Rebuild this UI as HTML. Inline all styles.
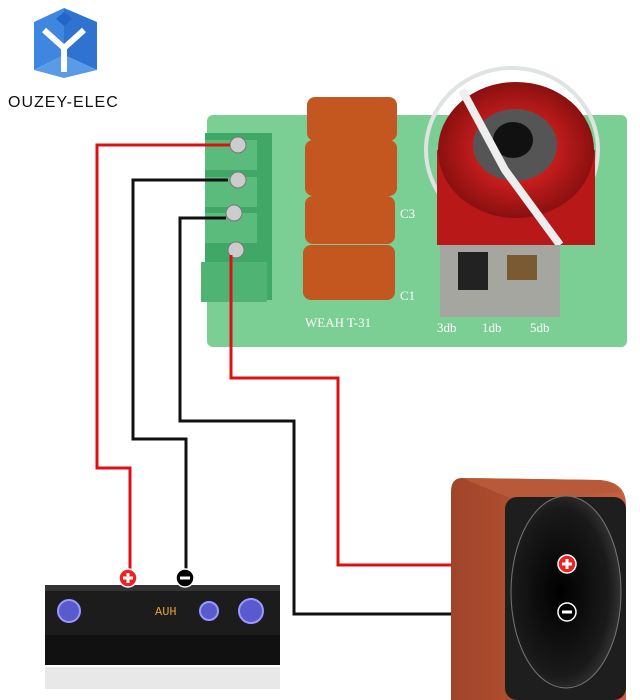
<!DOCTYPE html>
<html><head><style>html,body{margin:0;padding:0;background:#fff}svg{display:block}</style></head><body>
<svg width="640" height="700" viewBox="0 0 640 700" xmlns="http://www.w3.org/2000/svg">
<defs>
<radialGradient id="coil" cx="0.5" cy="0.5" r="0.5"><stop offset="0.3" stop-color="#d22"/><stop offset="1" stop-color="#8a1010"/></radialGradient>
<linearGradient id="wood" x1="0" x2="1"><stop offset="0" stop-color="#a0442a"/><stop offset="1" stop-color="#c8603c"/></linearGradient>
<radialGradient id="horn" cx="0.45" cy="0.5" r="0.55"><stop offset="0" stop-color="#000"/><stop offset="0.8" stop-color="#1a1a1a"/><stop offset="1" stop-color="#333"/></radialGradient>
</defs>
<!-- logo -->
<polygon points="34,22 64,8 64,55 34,70" fill="#3f86e0"/>
<polygon points="64,8 97,22 97,70 64,55" fill="#2f72d0"/>
<polygon points="34,70 64,55 97,70 64,78" fill="#5a9be8"/>
<polygon points="64,12 72,19 64,26 56,19" fill="#2266cc"/>
<path d="M44,30 L64,48 L84,30 M64,48 L64,72" stroke="#fff" stroke-width="6" fill="none"/>
<text x="8" y="107" font-family="Liberation Sans, sans-serif" font-size="16" fill="#111" letter-spacing="1">OUZEY-ELEC</text>
<!-- board -->
<rect x="207" y="115" width="420" height="232" rx="6" fill="#7ccf94"/>
<rect x="205" y="133" width="67" height="167" fill="#3fa866"/>
<rect x="205" y="140" width="52" height="30" fill="#5bbb7d"/>
<rect x="205" y="177" width="52" height="30" fill="#5bbb7d"/>
<rect x="205" y="213" width="52" height="30" fill="#5bbb7d"/>
<rect x="201" y="262" width="66" height="40" fill="#4fb473"/>
<g fill="#ccc" stroke="#777"><circle cx="238" cy="145" r="8"/><circle cx="238" cy="180" r="8"/><circle cx="234" cy="213" r="8"/><circle cx="236" cy="250" r="8"/></g>
<g fill="#c4571f"><rect x="307" y="97" width="90" height="44" rx="8"/><rect x="305" y="140" width="92" height="56" rx="8"/><rect x="305" y="196" width="90" height="48" rx="8"/><rect x="303" y="245" width="92" height="55" rx="8"/></g>
<ellipse cx="512" cy="150" rx="86" ry="82" fill="none" stroke="#dfe4e2" stroke-width="4"/>
<rect x="437" y="150" width="158" height="95" fill="#b81818"/>
<ellipse cx="516" cy="150" rx="78" ry="68" fill="url(#coil)"/>
<ellipse cx="515" cy="145" rx="42" ry="36" fill="#555"/>
<ellipse cx="513" cy="140" rx="20" ry="18" fill="#111"/>
<path d="M462,90 L505,170 L560,245" stroke="#eee" stroke-width="8" fill="none"/>
<rect x="440" y="245" width="120" height="72" fill="#a6a6a0"/>
<rect x="458" y="252" width="30" height="38" fill="#222"/>
<rect x="507" y="255" width="30" height="25" fill="#7a5a30"/>
<g font-family="Liberation Serif, serif" font-size="13" fill="#fff"><text x="305" y="327">WEAH T-31</text><text x="437" y="332">3db</text><text x="482" y="332">1db</text><text x="530" y="332">5db</text><text x="400" y="300">C1</text><text x="400" y="218">C3</text></g>
<!-- wires -->
<g fill="none" stroke-width="3">
<path d="M230,145 H97 V468 H130 V578" stroke="#d11"/>
<path d="M228,180 H133 V439 H186 V578" stroke="#111"/>
<path d="M226,218 H180 V421 H294 V614 H567" stroke="#111"/>
<path d="M231,255 V378 H338 V565 H567" stroke="#d11"/>
</g>
<!-- amp -->
<rect x="45" y="585" width="235" height="80" fill="#1c1c1c"/>
<rect x="45" y="585" width="235" height="6" fill="#333"/>
<rect x="45" y="635" width="235" height="30" fill="#111"/>
<rect x="45" y="667" width="235" height="22" fill="#e8e8e8"/>
<g fill="#5a5acf" stroke="#99f" stroke-width="2"><circle cx="69" cy="611" r="11"/><circle cx="209" cy="611" r="9"/><circle cx="251" cy="611" r="12"/></g>
<text x="155" y="615" font-family="Liberation Mono, monospace" font-size="12" fill="#e8a030">AUH</text>
<!-- speaker -->
<path d="M462,478 L600,480 Q626,482 626,505 L626,700 L451,700 L451,492 Q451,478 462,478 Z" fill="url(#wood)"/>
<path d="M462,478 L600,480 Q615,482 620,492 L515,500 Z" fill="#b85a3a"/>
<rect x="505" y="497" width="121" height="203" rx="12" fill="#1e1e1e"/>
<ellipse cx="566" cy="592" rx="55" ry="96" fill="url(#horn)" stroke="#777"/>
<!-- terminals -->
<g><circle cx="128" cy="578" r="9" fill="#e22" stroke="#fff" stroke-width="1.5"/><path d="M123,578 H133 M128,573 V583" stroke="#fff" stroke-width="3"/>
<circle cx="185" cy="578" r="9" fill="#000" stroke="#fff" stroke-width="1.5"/><path d="M180,578 H190" stroke="#fff" stroke-width="3"/>
<circle cx="567" cy="564" r="9" fill="#e22" stroke="#fff" stroke-width="1.5"/><path d="M562,564 H572 M567,559 V569" stroke="#fff" stroke-width="3"/>
<circle cx="567" cy="612" r="9" fill="#000" stroke="#fff" stroke-width="1.5"/><path d="M562,612 H572" stroke="#fff" stroke-width="3"/></g>
</svg>
</body></html>
